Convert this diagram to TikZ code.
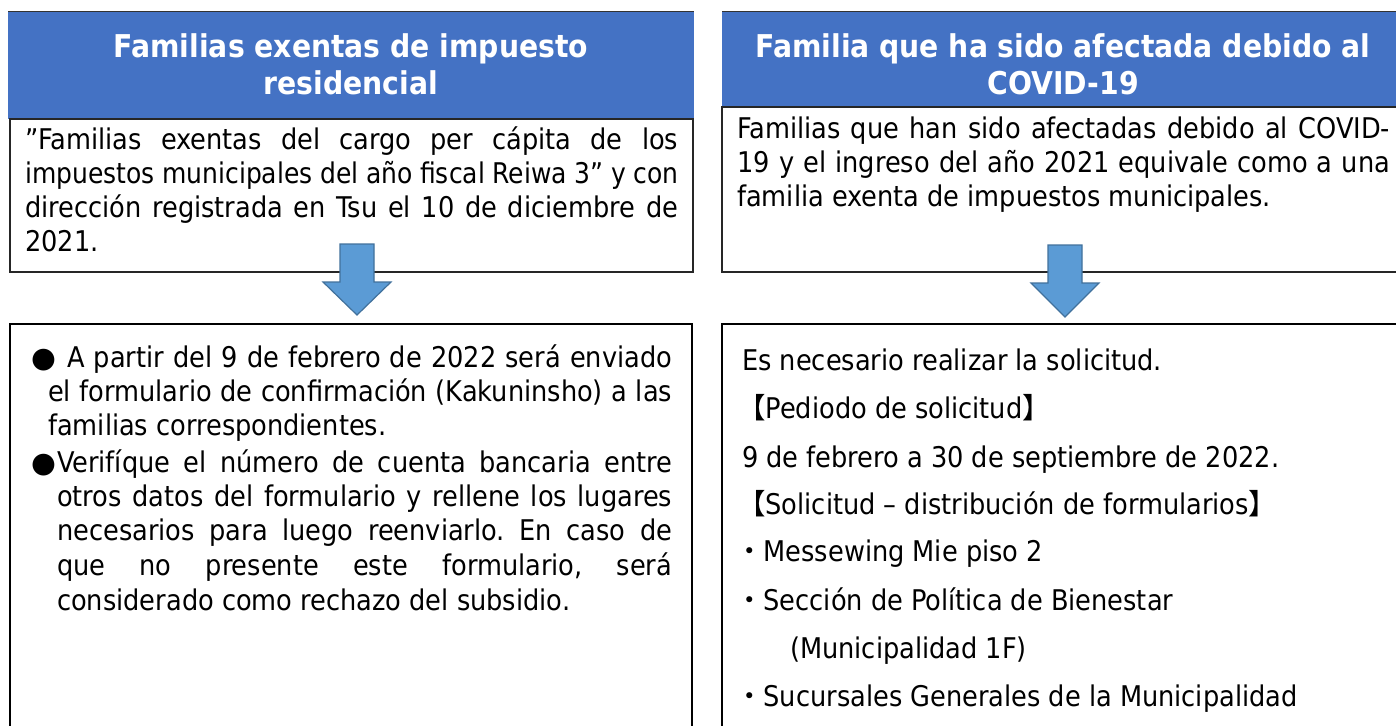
\documentclass[tikz,border=0pt]{standalone}
\usepackage{fontspec}
\setmainfont{DejaVu Sans Condensed}
\newfontfamily\symf{DejaVu Sans}
\newfontfamily\cjkf{Noto Sans CJK JP}
\definecolor{hdrblue}{HTML}{4472C4}
\definecolor{arrfill}{HTML}{5B9BD5}
\definecolor{arrdraw}{HTML}{41719C}
\frenchspacing
\tikzset{
 hdr/.style={text=white,font=\fontsize{31.4}{37}\selectfont\bfseries,align=center,inner sep=0pt},
 txt/.style={font=\fontsize{28.5}{34}\selectfont,anchor=base west,inner sep=0pt},
 topbox/.style={draw=black!85,line width=1.2pt},
 botbox/.style={draw=black,line width=2pt},
 blockarrow/.style={fill=arrfill,draw=arrdraw,line width=1.2pt,line join=miter},
}
\newcommand{\jl}[2]{\makebox[#1pt][s]{#2}}
\begin{document}
\begin{tikzpicture}[x=1pt,y=-1pt]
\useasboundingbox (0,0) rectangle (1396,725);
\fill[white] (0,0) rectangle (1396,725);
% top left
\fill[hdrblue] (8,12) rectangle (694,119);
\draw[black!80,line width=1pt] (8,12) -- (694,12);
\draw[topbox] (10,119) rectangle (693,272);
\node[hdr] (h1) at (351,64) {Familias exentas de impuesto\\residencial};
\node[txt] (t1a) at (25,149) {\jl{653}{”Familias exentas del cargo per cápita de los}};
\node[txt] (t1b) at (25,183) {\scalebox{0.975}[1]{\jl{670}{impuestos municipales del año fiscal Reiwa 3” y con}}};
\node[txt] (t1c) at (25,217) {\jl{653}{dirección registrada en Tsu el 10 de diciembre de}};
\node[txt] (t1d) at (25,251) {2021.};
% top right
\fill[hdrblue] (722,12) rectangle (1400,107);
\draw[black!80,line width=1pt] (722,12) -- (1400,12);
\draw[topbox] (722,107) rectangle (1400,272);
\node[hdr] (h2) at (1063,64) {Familia que ha sido afectada debido al\\COVID-19};
\node[txt] (t2a) at (737,138) {\jl{653}{Familias que han sido afectadas debido al COVID-}};
\node[txt] (t2b) at (737,172) {\jl{653}{19 y el ingreso del año 2021 equivale como a una}};
\node[txt] (t2c) at (737,206) {familia exenta de impuestos municipales.};
% bottom boxes
\draw[botbox] (10,324) rectangle (692,740);
\draw[botbox] (722,324) rectangle (1400,740);
% bottom left text
\node[txt] (b1) at (31,367) {\symf ●};
\node[txt] (l1) at (67,367) {\jl{605}{A partir del 9 de febrero de 2022 será enviado}};
\node[txt] (l2) at (48,401) {\jl{624}{el formulario de confirmación (Kakuninsho) a las}};
\node[txt] (l3) at (48,435) {familias correspondientes.};
\node[txt] (b2) at (31,472) {\symf ●};
\node[txt] (l4) at (57,472) {\jl{615}{Verifíque el número de cuenta bancaria entre}};
\node[txt] (l5) at (57,506) {\jl{615}{otros datos del formulario y rellene los lugares}};
\node[txt] (l6) at (57,540) {\jl{615}{necesarios para luego reenviarlo. En caso de}};
\node[txt] (l7) at (57,575) {\jl{615}{que no presente este formulario, será}};
\node[txt] (l8) at (57,610) {considerado como rechazo del subsidio.};
% bottom right text
\node[txt] (r1) at (742,370) {Es necesario realizar la solicitud.};
\node[txt] (r2) at (737,418) {{\cjkf 【}Pediodo de solicitud{\cjkf 】}};
\node[txt] (r3) at (742,467) {9 de febrero a 30 de septiembre de 2022.};
\node[txt] (r4) at (737,514) {{\cjkf 【}Solicitud – distribución de formularios{\cjkf 】}};
\node[txt] (r5) at (735,561) {{\cjkf ・}Messewing Mie piso 2};
\node[txt] (r6) at (735,610) {{\cjkf ・}Sección de Política de Bienestar};
\node[txt] (r7) at (790,658) {(Municipalidad 1F)};
\node[txt] (r8) at (735,706) {{\cjkf ・}Sucursales Generales de la Municipalidad};
% block arrows
\draw[blockarrow] (340,244) -- (374,244) -- (374,282) -- (391,282) -- (357,315) -- (323,282) -- (340,282) -- cycle;
\draw[blockarrow] (1048,245) -- (1082,245) -- (1082,283) -- (1099,283) -- (1065,317) -- (1031,283) -- (1048,283) -- cycle;
\end{tikzpicture}
\end{document}
